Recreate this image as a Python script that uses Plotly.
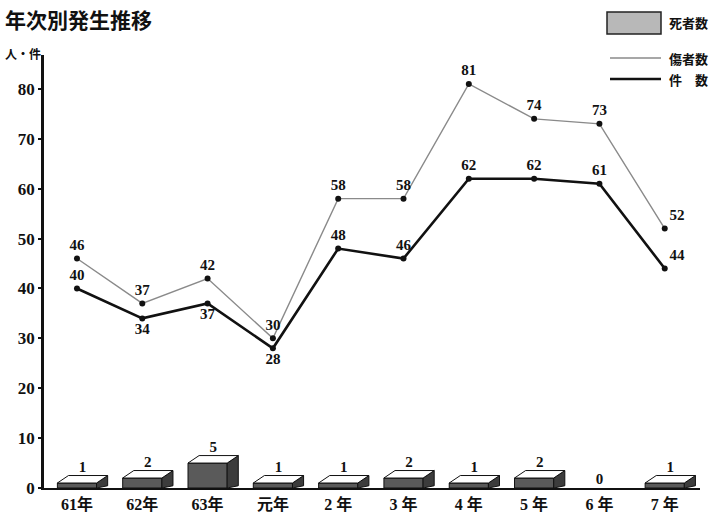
import plotly.graph_objects as go

# 年次別の発生件数・傷者数・死者数
years = ["61年", "62年", "63年", "元年", "2 年", "3 年", "4 年", "5 年", "6 年", "7 年"]
injured = [46, 37, 42, 30, 58, 58, 81, 74, 73, 52]     # 傷者数
incidents = [40, 34, 37, 28, 48, 46, 62, 62, 61, 44]   # 件数
deaths = [1, 2, 5, 1, 1, 2, 1, 2, 0, 1]                # 死者数

y_ticks = [0, 10, 20, 30, 40, 50, 60, 70, 80]

inj_textpos = ["top center"] * 9 + ["top right"]
inc_textpos = ["top center", "bottom center", "bottom center", "bottom center",
               "top center", "top center", "top center", "top center",
               "top center", "top right"]

NUM_FONT = "Liberation Serif, Noto Sans CJK JP"
CJK_FONT = "Noto Sans CJK JP, Noto Sans"

xs = list(range(len(years)))
half_w = 0.30   # half width of each box front
dx = 0.17       # depth offset in category units
dy = 1.5        # depth offset in value units

fig = go.Figure()

# front faces of the 3D boxes (no outline where the count is zero)
fig.add_trace(go.Bar(
    x=xs, y=deaths, width=2 * half_w,
    marker=dict(color="#5a5a5a",
                line=dict(color="#111", width=[1 if v > 0 else 0 for v in deaths])),
    hoverinfo="skip", showlegend=False,
))

# top and side faces built from the same death counts
top_x, top_y, side_x, side_y = [], [], [], []
for x, v in zip(xs, deaths):
    if v <= 0:
        continue
    top_x += [x - half_w, x - half_w + dx, x + half_w + dx, x + half_w, x - half_w, None]
    top_y += [v, v + dy, v + dy, v, v, None]
    side_x += [x + half_w, x + half_w, x + half_w + dx, x + half_w + dx, x + half_w, None]
    side_y += [0, v, v + dy, dy * 0.3, 0, None]

fig.add_trace(go.Scatter(
    x=side_x, y=side_y, mode="lines", fill="toself", fillcolor="#3c3c3c",
    line=dict(color="#111", width=1), hoverinfo="skip", showlegend=False,
))
fig.add_trace(go.Scatter(
    x=top_x, y=top_y, mode="lines", fill="toself", fillcolor="#ffffff",
    line=dict(color="#111", width=1), hoverinfo="skip", showlegend=False,
))

# death count labels above each box
fig.add_trace(go.Scatter(
    x=[x + (dx / 2 if v > 0 else 0) for x, v in zip(xs, deaths)],
    y=[v + dy if v > 0 else 0 for v in deaths],
    mode="text", text=[str(v) for v in deaths], textposition="top center",
    textfont=dict(family=NUM_FONT, size=15, color="#111", weight="bold"),
    cliponaxis=False, hoverinfo="skip", showlegend=False,
))

# 傷者数: thin gray line
fig.add_trace(go.Scatter(
    x=xs, y=injured, mode="lines+markers+text",
    line=dict(color="#8a8a8a", width=1.4),
    marker=dict(color="#111", size=6),
    text=[str(v) for v in injured], textposition=inj_textpos,
    textfont=dict(family=NUM_FONT, size=15, color="#111", weight="bold"),
    cliponaxis=False, showlegend=False,
))

# 件数: thick black line
fig.add_trace(go.Scatter(
    x=xs, y=incidents, mode="lines+markers+text",
    line=dict(color="#111", width=2.6),
    marker=dict(color="#111", size=6),
    text=[str(v) for v in incidents], textposition=inc_textpos,
    textfont=dict(family=NUM_FONT, size=15, color="#111", weight="bold"),
    cliponaxis=False, showlegend=False,
))

L, R, T, B = 44, 21, 55, 27
W, H = 721, 515
pw, ph = W - L - R, H - T - B


def px(xp):
    return (xp - L) / pw


def py(yp):
    return (H - B - yp) / ph


shapes = [
    # legend swatches
    dict(type="rect", xref="paper", yref="paper",
         x0=px(607), x1=px(661), y0=py(34), y1=py(12),
         fillcolor="#b8b8b8", line=dict(color="#222", width=1.5)),
    dict(type="line", xref="paper", yref="paper",
         x0=px(610), x1=px(661), y0=py(58), y1=py(58),
         line=dict(color="#8a8a8a", width=1.4)),
    dict(type="line", xref="paper", yref="paper",
         x0=px(610), x1=px(661), y0=py(79), y1=py(79),
         line=dict(color="#111", width=2.6)),
]

legend_font = dict(family=CJK_FONT, size=13, color="#111", weight="bold")
annotations = [
    dict(text="人・件", xref="paper", yref="paper", x=px(3), y=py(54),
         xanchor="left", yanchor="middle", showarrow=False,
         font=dict(family=CJK_FONT, size=12, color="#111", weight="bold")),
    dict(text="死者数", xref="paper", yref="paper", x=px(667), y=py(23),
         xanchor="left", yanchor="middle", showarrow=False, font=legend_font),
    dict(text="傷者数", xref="paper", yref="paper", x=px(667), y=py(58),
         xanchor="left", yanchor="middle", showarrow=False, font=legend_font),
    dict(text="件　数", xref="paper", yref="paper", x=px(667), y=py(80),
         xanchor="left", yanchor="middle", showarrow=False, font=legend_font),
]

fig.update_layout(
    width=W, height=H,
    margin=dict(l=L, r=R, t=T, b=B, autoexpand=False),
    paper_bgcolor="white", plot_bgcolor="white",
    title=dict(text="年次別発生推移", x=5 / W, xanchor="left",
               y=1 - 21 / H, yanchor="middle",
               font=dict(family=CJK_FONT, size=21, color="#111", weight="bold")),
    shapes=shapes, annotations=annotations,
    barmode="overlay",
)

fig.update_xaxes(
    range=[-0.505, 9.54], tickvals=xs, ticktext=years,
    showline=True, linecolor="#111", linewidth=1.6,
    showgrid=False, zeroline=False, ticks="",
    ticklabelstandoff=1, automargin=False,
    tickfont=dict(family=NUM_FONT, size=16, color="#111", weight="bold"),
)
fig.update_yaxes(
    range=[0, 86.8], tickvals=y_ticks,
    showline=True, linecolor="#111", linewidth=2.6,
    showgrid=False, zeroline=False, ticks="outside", ticklen=3, tickwidth=1.5,
    tickcolor="#111", ticklabelstandoff=0, automargin=False,
    tickfont=dict(family=NUM_FONT, size=17, color="#111", weight="bold"),
)

fig.write_html("out.html")
